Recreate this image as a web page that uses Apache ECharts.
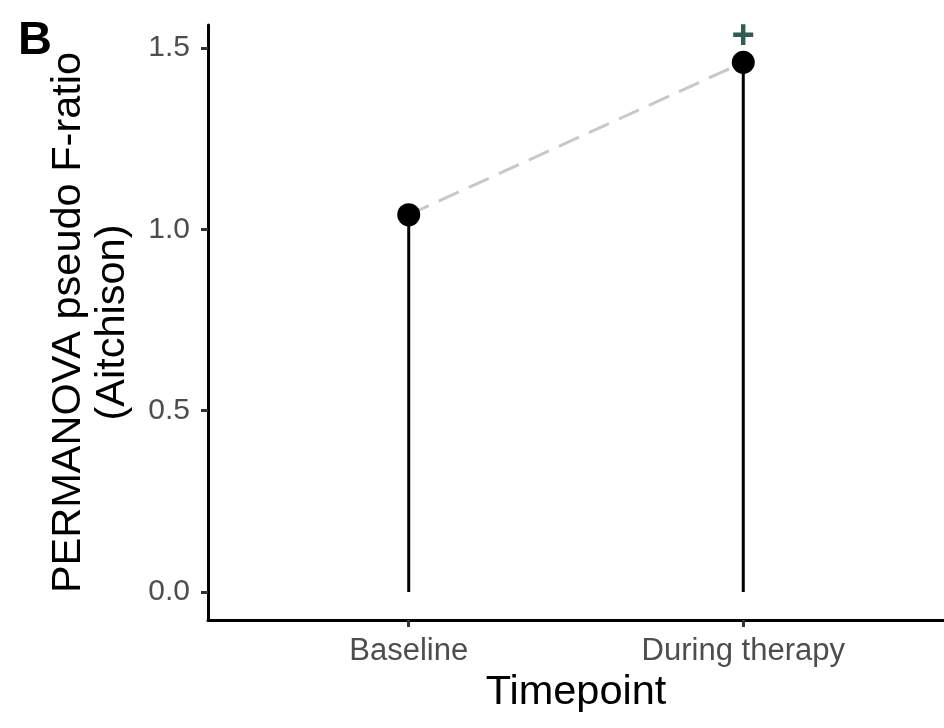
<!DOCTYPE html>
<html>
<head>
<meta charset="utf-8">
<script src="https://cdn.jsdelivr.net/npm/echarts@6/dist/echarts.min.js"></script>
<style>html,body{margin:0;padding:0;background:#fff}#c{width:944px;height:728px}</style>
</head>
<body>
<div id="c"></div>
<script>
const categories = ['Baseline', 'During therapy'];
const fRatio = [1.04, 1.46];
const sigMarks = ['', '+'];
const yTicks = [0, 0.5, 1.0, 1.5];
const xTicks = [1, 2];

const FONT = "'Liberation Sans', Arial, sans-serif";
const chart = echarts.init(document.getElementById('c'), null, {renderer: 'canvas'});

const stemSeries = categories.map((c, i) => ({
  type: 'line',
  data: [[xTicks[i], 0], [xTicks[i], fRatio[i]]],
  symbol: 'none',
  lineStyle: {color: '#000', width: 3},
  z: 2,
  silent: true
}));

const option = {
  animation: false,
  backgroundColor: '#fff',
  grid: {left: 208, right: 0, top: 25, bottom: 108, containLabel: false},
  xAxis: {
    type: 'value', min: 0.4, max: 2.6,
    name: 'Timepoint', nameLocation: 'middle', nameGap: 48,
    nameTextStyle: {fontSize: 41.5, color: '#000', fontFamily: FONT},
    axisLine: {show: true, onZero: false, lineStyle: {color: '#000', width: 3}},
    axisTick: {show: true, customValues: xTicks, length: 7, lineStyle: {color: '#333', width: 3}},
    axisLabel: {customValues: xTicks, margin: 16, fontSize: 31, color: '#4d4d4d', fontFamily: FONT,
      formatter: v => categories[Math.round(v) - 1] || ''},
    splitLine: {show: false}
  },
  yAxis: {
    type: 'value', min: -0.077, max: 1.563,
    name: 'PERMANOVA pseudo F-ratio\n(Aitchison)', nameLocation: 'middle', nameRotate: 90, nameGap: 73,
    nameTextStyle: {fontSize: 41.5, color: '#000', fontFamily: FONT, lineHeight: 44},
    axisLine: {show: true, onZero: false, lineStyle: {color: '#000', width: 3}},
    axisTick: {show: true, customValues: yTicks, length: 7, lineStyle: {color: '#333', width: 3}},
    axisLabel: {customValues: yTicks, margin: 18, fontSize: 30, color: '#4d4d4d', fontFamily: FONT,
      formatter: v => v.toFixed(1)},
    splitLine: {show: false}
  },
  graphic: [{
    type: 'text', left: 18, top: 18,
    style: {text: 'B', font: "bold 47px 'Liberation Sans', Arial, sans-serif", fill: '#000'}
  }],
  series: [
    ...stemSeries,
    {
      type: 'line',
      data: fRatio.map((v, i) => [xTicks[i], v]),
      symbol: 'none',
      lineStyle: {color: '#c8c8c8', width: 3, type: [22, 11]},
      z: 3,
      silent: true
    },
    {
      type: 'scatter',
      data: fRatio.map((v, i) => [xTicks[i], v]),
      symbolSize: 23,
      itemStyle: {color: '#000', opacity: 1},
      z: 4,
      label: {
        show: true, position: 'top', distance: -6,
        formatter: p => sigMarks[p.dataIndex],
        fontSize: 40, fontWeight: 'bold', color: '#2f5d55', fontFamily: FONT
      }
    }
  ]
};
chart.setOption(option);
</script>
</body>
</html>
